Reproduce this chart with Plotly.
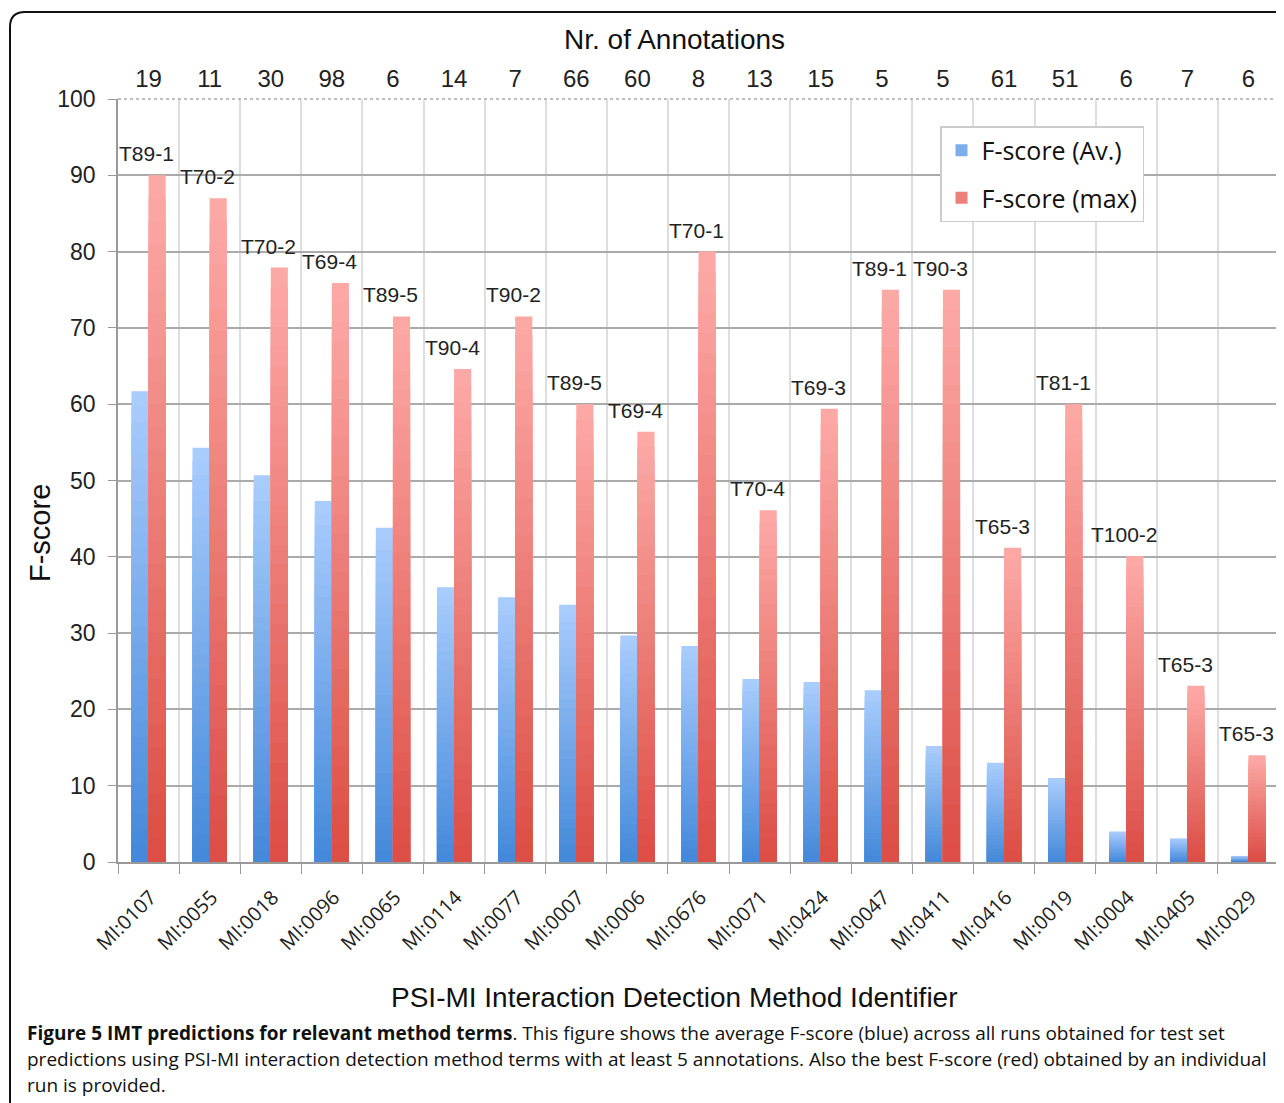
import plotly.graph_objects as go

methods = ["MI:0107", "MI:0055", "MI:0018", "MI:0096", "MI:0065", "MI:0114", "MI:0077",
           "MI:0007", "MI:0006", "MI:0676", "MI:0071", "MI:0424", "MI:0047", "MI:0411",
           "MI:0416", "MI:0019", "MI:0004", "MI:0405", "MI:0029"]
n_annotations = ["19", "11", "30", "98", "6", "14", "7", "66", "60", "8", "13", "15",
                 "5", "5", "61", "51", "6", "7", "6"]
fscore_avg = [61.7, 54.3, 50.7, 47.3, 43.8, 36.0, 34.7, 33.7, 29.7, 28.3, 24.0, 23.6,
              22.5, 15.2, 13.0, 11.0, 4.0, 3.1, 0.8]
fscore_max = [90.0, 87.0, 77.9, 75.9, 71.5, 64.6, 71.5, 60.0, 56.4, 80.0, 46.1, 59.4,
              75.0, 75.0, 41.2, 60.0, 40.1, 23.1, 14.0]
best_run = ["T89-1", "T70-2", "T70-2", "T69-4", "T89-5", "T90-4", "T90-2", "T89-5", "T69-4",
            "T70-1", "T70-4", "T69-3", "T89-1", "T90-3", "T65-3", "T81-1", "T100-2",
            "T65-3", "T65-3"]

OFF = 8  # page body margin
W, H = 1284 - OFF, 1103 - OFF
L, R, T, B = 118 - OFF, 5, 99 - OFF, 241
PW, PH = W - L - R, H - T - B

CHART_FONT = "Liberation Sans, Arial, sans-serif"
CAP_FONT = "Open Sans, sans-serif"


def px2x(px):
    return (px - OFF - L) / PW


def px2y(py):
    return (H - B - (py - OFF)) / PH


def lerp(c1, c2, t):
    a = [int(c1[i:i + 2], 16) for i in (1, 3, 5)]
    b = [int(c2[i:i + 2], 16) for i in (1, 3, 5)]
    return "rgb(%d,%d,%d)" % tuple(round(a[j] + (b[j] - a[j]) * t) for j in range(3))


K = 30
fig = go.Figure()


def add_gradient_series(values, name, group, bottom, top, legend_k):
    for k in range(K):
        frac = (K - k) / K
        col = lerp(bottom, top, (K - k - 0.5) / K)
        fig.add_trace(go.Bar(
            x=methods, y=[v * frac for v in values],
            name=name, legendgroup=group, offsetgroup=group,
            showlegend=(k == legend_k),
            marker=dict(color=col, line=dict(width=0)),
            hoverinfo="skip",
        ))


add_gradient_series(fscore_avg, "F-score (Av.)", "avg", "#4388d9", "#aacdfd", int(K * 0.45))
add_gradient_series(fscore_max, "F-score (max)", "max", "#db4c44", "#fdaba8", int(K * 0.45))

# invisible trace to carry the top axis
fig.add_trace(go.Scatter(x=methods, y=fscore_max, xaxis="x2", mode="markers",
                         marker=dict(opacity=0), showlegend=False, hoverinfo="skip"))

# labels of best runs above red bars
for m, v, lab in zip(methods, fscore_max, best_run):
    fig.add_annotation(x=m, y=v, text=lab, showarrow=False, xref="x", yref="y",
                       xanchor="center", yanchor="bottom", xshift=-2, yshift=8,
                       font=dict(family=CHART_FONT, size=21, color="#222222"))

# axis titles
fig.add_annotation(x=px2x(674), y=px2y(40), xref="paper", yref="paper",
                   text="Nr. of Annotations", showarrow=False, xanchor="center", yanchor="middle",
                   font=dict(family=CHART_FONT, size=28, color="#111111"))
fig.add_annotation(x=px2x(674), y=px2y(997), xref="paper", yref="paper",
                   text="PSI-MI Interaction Detection Method Identifier", showarrow=False,
                   xanchor="center", yanchor="middle",
                   font=dict(family=CHART_FONT, size=28, color="#111111"))
fig.add_annotation(x=px2x(40), y=px2y(533), xref="paper", yref="paper",
                   text="F-score", showarrow=False, textangle=-90,
                   xanchor="center", yanchor="middle",
                   font=dict(family=CHART_FONT, size=29, color="#111111"))

# caption
caption_lines = [
    "<b>Figure 5 IMT predictions for relevant method terms</b>. This figure shows the average "
    "F-score (blue) across all runs obtained for test set",
    "predictions using PSI-MI interaction detection method terms with at least 5 annotations. "
    "Also the best F-score (red) obtained by an individual",
    "run is provided.",
]
for i, line in enumerate(caption_lines):
    fig.add_annotation(x=px2x(25), y=px2y(1033 + 26 * i), xref="paper", yref="paper",
                       text=line, showarrow=False, xanchor="left", yanchor="middle",
                       font=dict(family=CAP_FONT, size=19, color="#111111"))

# frame with rounded top-left corner
x0, y0 = px2x(10), px2y(12)
x1, yb = px2x(1300), px2y(1120)
rx, ry = 15 / PW, 15 / PH
fig.add_shape(type="path", xref="paper", yref="paper",
              path=f"M {x0},{yb} L {x0},{y0 - ry} Q {x0},{y0} {x0 + rx},{y0} L {x1},{y0}",
              line=dict(color="#111111", width=2), layer="above")
# dashed top and right border of plot area
fig.add_shape(type="line", xref="paper", yref="paper", x0=0, x1=1, y0=1, y1=1,
              line=dict(color="#aaaaaa", width=1.5, dash="dot"), layer="above")
fig.add_shape(type="line", xref="paper", yref="paper", x0=1, x1=1, y0=0, y1=1,
              line=dict(color="#aaaaaa", width=1.5, dash="dot"), layer="above")

fig.update_layout(
    width=W, height=H,
    margin=dict(l=L, r=R, t=T, b=B, autoexpand=False),
    paper_bgcolor="white", plot_bgcolor="white",
    barmode="group", bargap=0.44, bargroupgap=0,
    font=dict(family=CHART_FONT, color="#222222"),
    legend=dict(x=px2x(940), y=px2y(126), xanchor="left", yanchor="top",
                bgcolor="white", bordercolor="#cccccc", borderwidth=1.5,
                font=dict(family=CAP_FONT, size=25, color="#111111"),
                traceorder="grouped", tracegroupgap=12, itemwidth=30),
    xaxis=dict(type="category", categoryorder="array", categoryarray=methods,
               range=[-0.5, len(methods) - 0.5],
               tickson="boundaries", ticks="outside", ticklen=10, tickcolor="#999999",
               tickangle=-45, tickfont=dict(family=CAP_FONT, size=20, color="#222222"),
               ticklabelstandoff=14, ticklabelshift=2,
               showgrid=True, gridcolor="#dedede", gridwidth=1.5,
               showline=True, linecolor="#999999", linewidth=1.5),
    xaxis2=dict(type="category", categoryorder="array", categoryarray=methods,
                overlaying="x", side="top", range=[-0.5, len(methods) - 0.5],
                tickmode="array", tickvals=methods, ticktext=n_annotations,
                ticks="", showgrid=False, showline=False, ticklabelstandoff=6,
                tickfont=dict(size=24, color="#222222")),
    yaxis=dict(range=[0, 100], dtick=10, ticks="outside", ticklen=8, tickcolor="#999999",
               tickfont=dict(size=23, color="#222222"), ticklabelstandoff=8,
               showgrid=True, gridcolor="#aaaaaa", gridwidth=2,
               showline=True, linecolor="#999999", linewidth=1.5, zeroline=False),
)

fig.write_html("out.html")
